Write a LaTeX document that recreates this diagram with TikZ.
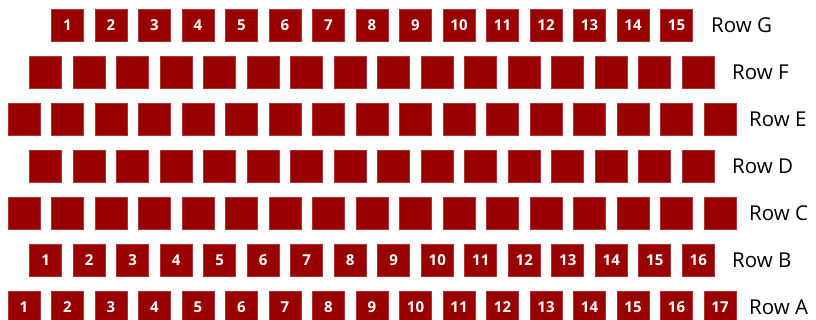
\documentclass[tikz,border=0pt]{standalone}
\usepackage{fontspec}
\setmainfont{Open Sans}
\usepackage{xcolor}
\definecolor{seatred}{RGB}{153,0,0}
\tikzset{
  seat/.style={rectangle, fill=seatred, draw=seatred!80!white, line width=0.6pt, minimum size=32pt, inner sep=0pt, text=white, font=\bfseries\fontsize{15}{15}\selectfont},
  rowlabel/.style={anchor=west, inner sep=0pt, text=black, font=\fontsize{20.5}{20.5}\selectfont}
}

\begin{document}
\begin{tikzpicture}[x=1pt,y=-1pt]
\useasboundingbox (0,0) rectangle (816,320);
% rows from the back (G) to the front (A): letter/y/seats/numbered/label x
\foreach \r/\y/\n/\num/\lx in {G/25/15/1/711, F/72/16/0/732, E/119/17/0/749, D/166/16/0/732, C/213/17/0/749, B/260/16/1/732, A/307/17/1/749}{
  \foreach \i in {1,...,\n}{
    \pgfmathsetmacro\sx{372+(\i-(\n+1)/2)*43.5}
    \ifnum\num=1
      \node[seat] (seat-\r\i) at (\sx,\y) {\i};
    \else
      \node[seat] (seat-\r\i) at (\sx,\y) {};
    \fi
  }
  \node[rowlabel] (row-\r) at (\lx,\y) {Row \r};
}
\end{tikzpicture}
\end{document}
